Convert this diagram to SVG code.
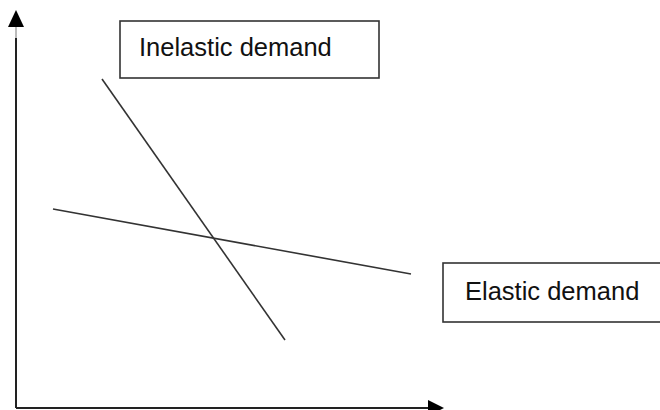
<svg xmlns="http://www.w3.org/2000/svg" width="660" height="410" viewBox="0 0 660 410">
<style>
.box{fill:#fff;stroke:#333;stroke-width:1.6}
.lbl{font-family:"Liberation Sans",Arial,sans-serif;font-size:25.5px;fill:#111}
.axis{stroke:#222;stroke-width:2;fill:none}
.head{fill:#000}
.curve{stroke:#333;stroke-width:1.6;fill:none}
</style>
<rect width="660" height="410" fill="#fff"/>
<g id="connectors">
<line class="axis" x1="16" y1="408" x2="16" y2="38"/>
<line x1="16" y1="27" x2="16" y2="38" stroke="#bbb" stroke-width="2"/>
<path class="head" d="M16,10 L24,27 L8,27 Z"/>
<line class="axis" x1="16" y1="408" x2="428" y2="408"/>
<path class="head" d="M444,408 L428,400 L428,416 Z"/>
<line class="curve" id="inelastic-curve" x1="102" y1="79" x2="285" y2="340"/>
<line class="curve" id="elastic-curve" x1="53" y1="209" x2="411" y2="274"/>
</g>
<g id="inelastic">
<rect class="box" x="120" y="21" width="259" height="57"/>
<text class="lbl" x="139" y="56">Inelastic demand</text>
</g>
<g id="elastic">
<rect class="box" x="443" y="263" width="230" height="59"/>
<text class="lbl" x="465" y="300">Elastic demand</text>
</g>
</svg>
